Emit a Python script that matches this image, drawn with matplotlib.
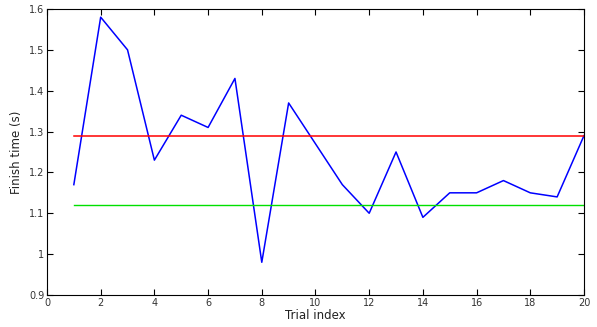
import numpy as np
import matplotlib.pyplot as plt

trials = np.arange(1, 21)
finish_times = [1.17, 1.58, 1.50, 1.23, 1.34, 1.31, 1.43, 0.98, 1.37, 1.27,
                1.17, 1.10, 1.25, 1.09, 1.15, 1.15, 1.18, 1.15, 1.14, 1.29]
red_level = 1.288
green_level = 1.12

fig = plt.figure(figsize=(5.97, 3.27), dpi=100)
ax = fig.add_axes([0.0787, 0.098, 0.8995, 0.8745])

ax.plot(trials, finish_times, color='#0000ff', lw=1.1)
ax.plot([trials[0], trials[-1]], [red_level, red_level], color='#ff0000', lw=1.1)
ax.plot([trials[0], trials[-1]], [green_level, green_level], color='#00e000', lw=1.0)

ax.set_xlim(0, 20)
ax.set_ylim(0.9, 1.6)
ax.set_xticks(np.arange(0, 21, 2))
ax.set_yticks(np.arange(0.9, 1.61, 0.1))
ax.set_yticklabels(['0.9', '1', '1.1', '1.2', '1.3', '1.4', '1.5', '1.6'])
ax.tick_params(direction='in', top=True, right=True, labelsize=7, length=4, width=0.8,
               pad=2, labelcolor='#333333')
for s in ax.spines.values():
    s.set_linewidth(0.8)

ax.set_xlabel('Trial index', fontsize=8.5, labelpad=1, color='#222222')
ax.set_ylabel('Finish time (s)', fontsize=8.5, labelpad=4, color='#222222')

fig.savefig('out.png', dpi=100)
